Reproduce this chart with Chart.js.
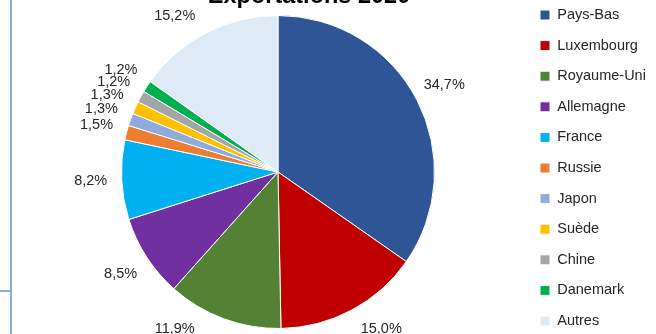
<!DOCTYPE html>
<html>
<head>
<meta charset="utf-8">
<script src="https://cdn.jsdelivr.net/npm/chart.js@4.4.1/dist/chart.umd.min.js"></script>
<style>
  html, body { margin: 0; padding: 0; background: #fff; overflow: hidden; }
  body { width: 656px; height: 334px; position: relative; }
  #wrap { position: absolute; left: 0; top: -20px; width: 656px; height: 380px; }
  .cell-v { position: absolute; left: 10px; top: 0; width: 2px; height: 334px; background: #8eaadb; }
  .cell-h { position: absolute; left: 0; top: 290px; width: 11px; height: 2px; background: #8eaadb; }
  .chart-title {
    position: absolute; left: 0; top: -15.9px; width: 618px;
    text-align: center; white-space: nowrap;
    font: bold 23.5px/23.5px 'Liberation Sans', Arial, sans-serif; color: #000;
  }
</style>
</head>
<body>
<div class="cell-v"></div>
<div class="cell-h"></div>
<div id="wrap"><canvas id="pieChart" width="656" height="380"></canvas></div>
<div class="chart-title">Exportations 2020</div>
<script>
const countries = ["Pays-Bas", "Luxembourg", "Royaume-Uni", "Allemagne", "France", "Russie", "Japon", "Suède", "Chine", "Danemark", "Autres"];
const shares = [34.7, 15.0, 11.9, 8.5, 8.2, 1.5, 1.3, 1.3, 1.2, 1.2, 15.2];
const sliceColors = ["#2f5597", "#c00000", "#548235", "#7030a0", "#00b0f0", "#ed7d31", "#8faadc", "#ffc000", "#a5a5a5", "#00b050", "#deebf7"];

const fontFamily = "'Liberation Sans', Arial, sans-serif";

// percent labels outside each slice
const pieLabels = {
  id: "pieLabels",
  afterDatasetsDraw(chart) {
    const ctx = chart.ctx;
    const meta = chart.getDatasetMeta(0);
    ctx.save();
    ctx.font = "14.5px " + fontFamily;
    ctx.fillStyle = "#262626";
    ctx.textAlign = "center";
    ctx.textBaseline = "middle";
    meta.data.forEach((arc, i) => {
      const { x, y, startAngle, endAngle, outerRadius } = arc.getProps(["x", "y", "startAngle", "endAngle", "outerRadius"], true);
      const mid = (startAngle + endAngle) / 2;
      const dist = outerRadius + 31;
      let dx = Math.cos(mid) * dist;
      let dy = Math.sin(mid) * dist;
      if (Math.abs(dy) > outerRadius) {
        dy = Math.sign(dy) * outerRadius;
        dx = Math.sign(dx) * Math.sqrt(dist * dist - dy * dy);
      }
      ctx.fillText(shares[i].toFixed(1).replace(".", ",") + "%", x + dx, y + dy);
    });
    ctx.restore();
  }
};

new Chart(document.getElementById("pieChart"), {
  type: "pie",
  data: {
    labels: countries,
    datasets: [{
      data: shares,
      backgroundColor: sliceColors,
      borderColor: "#ffffff",
      borderWidth: 1
    }]
  },
  options: {
    responsive: false,
    animation: false,
    radius: 156.5,
    layout: {
      padding: { top: 11.65, left: 32.1, right: 2.1, bottom: 7.65 }
    },
    plugins: {
      title: { display: false },
      legend: {
        position: "right",
        align: "start",
        maxWidth: 130,
        labels: {
          boxWidth: 10,
          boxHeight: 10,
          padding: 16.1,
          color: "#262626",
          textAlign: "left",
          font: { family: fontFamily, size: 14.5 }
        }
      },
      tooltip: { enabled: false }
    }
  },
  plugins: [pieLabels]
});
</script>
</body>
</html>
